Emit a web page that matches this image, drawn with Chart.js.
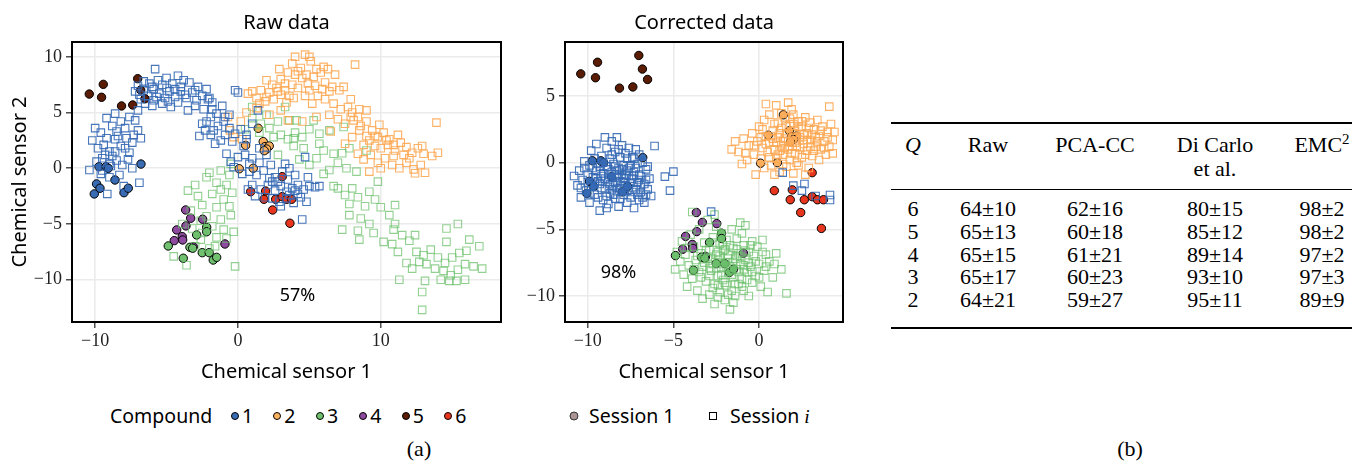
<!DOCTYPE html>
<html><head><meta charset="utf-8">
<script src="https://cdn.jsdelivr.net/npm/chart.js@4.4.1/dist/chart.umd.min.js"></script>
<style>
html,body{margin:0;padding:0;background:#fff;}
body{width:1359px;height:464px;overflow:hidden;position:relative;font-family:"Noto Sans",sans-serif;color:#000;}
canvas{position:absolute;top:0;}
.abs{position:absolute;white-space:nowrap;line-height:1;}
.cc{transform:translate(-50%,-50%);}
.cl{transform:translate(0,-50%);}
.serif{font-family:"Liberation Serif",serif;}
.rule{position:absolute;background:#000;left:891px;width:461px;}
</style></head><body>
<canvas id="cRaw" width="515" height="395" style="left:0;width:515px;height:395px"></canvas>
<canvas id="cCor" width="345" height="395" style="left:515px;width:345px;height:395px"></canvas>
<div id="extra"></div>
<script>
// ---------------- data ----------------
const compoundLabels = ['1','2','3','4','5','6'];
const rawXTicks = [-10, 0, 10];
const rawYTicks = [-10, -5, 0, 5, 10];
const corXTicks = [-10, -5, 0];
const corYTicks = [-10, -5, 0, 5];
const rawAccuracy = '57%';
const corAccuracy = '98%';

// Session 1 (circles) - identical in both panels
const s1c1 = [[-9.73,0.14],[-9.24,0.14],[-9.08,0],[-8.61,-1.05],[-10.06,-2.3],[-9.9,-1.4],[-9.66,-1.79],[-7.98,-2.19],[-7.68,-1.79],[-6.79,0.38]];
const s1c2 = [[1.42,3.59],[0.54,2.06],[1.77,2.39],[1.89,1.94],[2.19,2.0],[2.01,1.73],[1.84,1.58],[0.09,-0.04],[1.07,0]];
const s1c3 = [[-4.88,-6.97],[-3.83,-8.07],[-2.89,-5.98],[-3.36,-7.09],[-3.17,-7.17],[-2.5,-7.57],[-2.19,-5.29],[-2.19,-5.69],[-2.01,-7.57],[-1.73,-8.23],[-1.49,-7.99]];
const s1c4 = [[-3.66,-3.74],[-3.31,-4.48],[-2.47,-4.57],[-4.29,-5.53],[-3.64,-5.17],[-3.9,-6.13],[-4.46,-6.49],[-3.87,-6.43],[-3.13,-7.03],[-0.91,-6.79]];
const s1c5 = [[-10.41,6.66],[-9.43,7.53],[-9.55,6.37],[-8.15,5.59],[-7.37,5.68],[-7.02,8.04],[-6.81,7.02],[-6.51,6.24]];
const s1c6 = [[3.1,-0.75],[0.89,-2.1],[1.94,-2.04],[1.82,-2.78],[2.64,-2.78],[3.1,-2.55],[3.41,-2.78],[3.76,-2.78],[2.43,-3.74],[3.64,-4.93]];

// Session i (squares) - raw data
const rawSq1 = [[-5.8,8.9],[-7.0,7.4],[-6.6,7.0],[-6.2,7.6],[-5.6,7.9],[-5.0,8.1],[-4.6,7.6],[-4.2,8.3],[-3.8,7.9],[-3.4,7.7],[-2.8,7.3],[-2.2,7.1],[-6.8,6.2],[-6.3,6.5],[-5.9,6.1],[-5.5,6.7],[-5.1,6.3],[-4.8,6.9],[-4.4,6.4],[-4.0,6.9],[-3.6,6.3],[-3.2,6.8],[-2.9,6.1],[-2.5,6.5],[-2.1,6.2],[-1.8,5.9],[-6.5,5.8],[-6.0,5.6],[-5.3,5.8],[-4.7,5.5],[-4.2,5.9],[-3.5,5.2],[-3.0,5.6],[-2.4,5.3],[-5.0,7.2],[-5.9,7.1],[-4.0,7.3],[-3.0,7.0],[-7.2,6.9],[-6.6,7.8],
[-6.0,7.3],[-5.3,7.5],[-4.4,7.1],[-3.7,6.6],[-5.7,6.4],[-6.9,6.6],[-4.9,6.0],
[-10.0,3.6],[-10.2,2.5],[-9.6,3.2],[-9.2,4.5],[-8.8,3.8],[-8.5,3.3],[-8.2,4.2],[-7.9,3.6],[-7.6,4.6],[-7.2,4.3],[-9.8,1.8],[-9.4,2.1],[-9.0,1.5],[-8.6,2.6],[-8.2,2.0],[-7.8,2.7],[-7.4,2.3],[-6.8,2.7],[-9.9,0.6],[-9.5,0.9],[-9.0,0.4],[-8.5,0.7],[-8.1,0.3],[-7.7,0.8],[-7.4,0.0],[-10.4,-0.15],[-9.6,-0.5],[-9.0,-0.8],[-8.3,-0.6],[-9.15,-2.3],[-6.9,-1.3],[-8.0,-1.6],[-8.6,4.9],[-7.0,5.2],[-8.8,1.1],[-7.6,1.4],[-9.5,-0.2],[-8.9,0.2],
[-8.4,2.9],[-9.2,2.7],[-7.9,1.8],[-8.6,1.5],[-9.3,1.2],[-7.0,3.4],[-7.3,3.0],
[-2.7,2.9],[-2.3,3.4],[-1.9,3.0],[-1.6,2.2],[-1.4,3.8],[-1.0,4.2],[-0.6,3.6],[-0.2,3.1],[0.2,3.5],[0.6,3.0],[-1.9,4.6],[-2.2,4.2],[-1.5,4.9],[-1.1,5.6],[-0.6,4.8],[-0.2,7.0],[0.0,6.8],[-1.8,5.3],[-1.2,2.5],[-0.4,2.4],[0.4,2.0],[-2.0,6.3],[-0.9,4.6],[-2.5,4.0],[1.4,5.2],[1.0,4.0],[-1.7,3.4],[-0.9,3.0],
[-0.8,1.3],[-0.5,0.6],[0.0,1.0],[0.5,1.2],[1.0,0.9],[1.5,0.5],[2.0,1.2],[-0.3,0.1],[0.3,-0.5],[0.8,-0.3],[1.3,-0.6],[1.8,-0.2],[2.3,0.3],[2.6,-0.8],[3.1,-0.3],[3.5,-1.0],[4.0,-0.6],[1.0,-1.5],[1.6,-1.9],[2.1,-1.5],[2.6,-2.0],[3.0,-1.6],[3.4,-2.1],[3.8,-1.8],[4.2,-1.5],[4.6,-1.9],[5.0,-1.6],[5.4,-1.7],[5.7,-1.6],[2.4,-2.7],[2.9,-3.0],[3.4,-2.7],[3.9,-3.1],[4.4,-2.6],[4.8,-3.0],[3.0,-3.4],[4.5,-4.6],[1.2,-2.5],[0.7,-1.9],[4.2,-2.3],[2.2,-0.9],[4.7,1.0],[3.3,0.4],[1.5,1.8],[0.6,2.6],[3.6,0.0],[4.9,-0.8],
[0.8,0.4],[2.8,-1.2],[3.6,-2.4],[4.0,-2.0],[1.9,-2.6],[2.4,-1.2]];
const rawSq2 = [[4.7,10.2],[3.8,9.4],[4.4,9.0],[5.1,9.6],[5.5,8.9],[3.5,8.6],[4.0,8.4],[5.8,8.6],[6.3,8.9],[6.0,9.1],[8.2,9.3],[4.5,8.1],[3.0,8.0],[2.4,7.5],[2.0,7.9],[1.6,7.0],[2.2,6.8],[2.7,7.2],[3.3,7.0],[3.8,7.5],[4.2,7.2],[4.9,7.6],[5.4,7.4],[6.1,7.7],[6.6,7.3],[7.1,7.0],[7.4,7.3],[0.7,6.7],[1.0,6.9],[1.3,6.3],[1.9,6.0],[2.5,6.2],[3.0,6.6],[3.4,5.9],[3.9,6.3],[4.7,6.5],[5.2,5.8],[5.6,6.5],[6.1,6.2],[6.7,5.8],[7.2,5.3],[7.7,5.5],[8.0,5.0],[8.5,5.3],[7.0,4.4],[7.5,4.0],[8.1,4.3],[8.6,3.8],[9.0,4.2],[9.4,3.4],[9.8,2.8],[10.2,3.2],[10.6,2.6],[9.2,2.5],[9.6,2.0],[10.0,1.8],[10.5,2.1],[11.0,1.6],[11.4,2.3],[11.8,1.9],[12.2,1.4],[12.6,1.8],[13.0,1.3],[13.6,1.1],[14.0,1.4],[12.9,2.0],[13.9,4.1],[8.4,1.3],[8.8,0.8],[9.3,1.2],[9.8,0.5],[10.3,0.9],[10.8,0.3],[11.3,0.0],[11.8,0.5],[12.3,-0.1],[12.8,0.3],[13.1,-0.4],[12.4,-0.45],[9.2,-0.3],[10.0,0.0],[7.5,2.2],[8.0,2.8],[6.5,3.3],[4.5,4.2],[5.5,4.6],[0.2,4.2],[-0.56,3.4],[0.6,5.0],[1.3,5.4],[2.2,4.8],[3.0,5.2],[3.5,4.3],[-0.3,2.8],[0.3,2.6],[-0.7,4.6],[9.0,5.2],[6.8,8.4],[5.0,10.0],[4.0,10.0],[6.4,4.8],[2.9,8.9],[7.9,6.2],[11.2,3.0],[10.9,1.1],[9.9,3.9],[8.8,2.1],
[4.2,8.7],[4.8,8.4],[5.3,8.2],[3.3,7.6],[2.8,6.9],[5.0,7.0],[5.9,7.1],[6.4,6.9],[3.6,6.5],[2.0,6.4],[1.5,5.8],[7.9,4.6],[8.4,4.6],[9.6,2.9],[10.4,2.5],[11.6,1.2],[12.0,0.9],[10.9,2.1],[9.0,2.9],[8.5,3.4]];
const rawSq3 = [[1.0,4.5],[1.6,4.0],[2.2,3.6],[2.8,4.2],[3.3,5.5],[3.6,4.3],[2.5,2.8],[3.0,3.0],[3.5,2.6],[4.0,3.2],[4.5,2.8],[4.1,4.3],[5.3,4.3],[5.0,3.5],[5.7,3.1],[6.4,3.4],[7.4,3.7],[5.7,2.2],[6.0,1.6],[6.7,1.3],[7.3,1.35],[7.8,1.8],[4.6,1.8],[3.9,2.7],[4.3,0.8],[5.0,0.3],[5.5,0.9],[6.4,-0.15],[7.0,0.5],[7.6,0.0],[6.0,-0.5],[6.7,-1.6],[1.5,3.2],[0.5,3.5],[-0.5,0.4],[-1.2,-0.2],[1.0,5.5],[2.0,4.8],[3.9,2.0],[2.8,1.2],[8.3,-0.3],[9.0,1.6],
[-3.0,-1.5],[-2.2,-0.8],[-1.5,-1.3],[-0.8,-1.5],[-3.5,-2.0],[-2.8,-2.5],[-1.8,-2.3],[-1.0,-2.8],[-0.4,-2.2],[-2.5,-3.3],[-1.5,-3.5],[-0.6,-3.4],[-3.3,-3.8],[-2.2,-4.3],[-1.2,-4.6],[-0.5,-4.2],[-1.8,-5.2],[-1.0,-5.5],[-0.3,-5.7],[-2.5,-5.8],[-1.5,-6.2],[-3.0,-7.0],[-2.0,-7.2],[-1.6,-7.0],[-4.5,-7.9],[-3.6,-8.7],[-0.2,-8.8],[-2.6,-6.4],[-0.8,-6.3],[-1.2,-1.9],[-3.9,-5.0],[-2.6,-4.7],[-3.2,-5.4],[-0.6,-0.6],[-2.0,-0.4],
[7.0,-1.8],[7.5,-2.4],[8.0,-1.8],[8.4,-2.6],[7.8,-3.2],[7.8,-4.2],[8.9,-3.4],[9.2,-2.1],[9.6,-2.8],[10.0,-3.5],[10.6,-4.2],[8.6,-4.5],[9.2,-5.0],[11.0,-5.0],[10.9,-5.5],[9.5,-5.8],[8.4,-5.6],[7.3,-5.5],[10.8,-6.8],[11.5,-6.0],[12.0,-6.5],[12.4,-6.0],[11.2,-7.5],[10.2,-6.6],[8.5,-6.4],[11.0,-3.3],[9.8,-1.2],
[12.5,-7.5],[13.0,-7.8],[13.5,-7.3],[14.0,-8.0],[14.5,-8.5],[15.0,-8.0],[15.5,-7.6],[16.0,-7.4],[16.9,-7.0],[13.2,-8.6],[13.8,-9.0],[14.4,-9.2],[14.9,-9.6],[15.4,-9.1],[15.9,-8.6],[16.5,-8.8],[17.1,-9.0],[14.2,-10.0],[14.8,-10.1],[15.3,-10.1],[15.9,-10.0],[13.1,-10.1],[12.2,-9.0],[11.8,-8.5],[14.6,-5.4],[14.6,-6.6],[15.4,-5.0],[12.9,-11.1],[12.9,-12.7],[16.2,-6.4],[11.3,-10.0],[12.7,-8.4]];

// Session i (squares) - corrected data
const corSq1 = [[-10.8,-1.0],[-10.6,-1.7],[-10.5,-0.6],[-10.4,-2.6],[-10.3,-1.3],[-10.2,0.1],[-10.1,-2.1],[-10.0,-0.9],[-9.9,-3.0],[-9.8,-1.8],[-9.8,0.9],[-9.7,-0.4],[-9.6,-2.4],[-9.5,-1.2],[-9.5,1.4],[-9.4,-0.1],[-9.3,-3.6],[-9.3,-1.6],[-9.2,0.5],[-9.1,-2.8],[-9.1,-0.8],[-9.0,1.9],[-9.0,-2.0],[-8.9,-0.3],[-8.9,1.1],[-8.8,-1.3],[-8.8,-3.1],[-8.7,0.3],[-8.7,-2.3],[-8.6,1.6],[-8.6,-0.7],[-8.5,-1.7],[-8.5,-0.1],[-8.4,0.8],[-8.4,-2.7],[-8.3,-1.1],[-8.3,1.9],[-8.2,-0.4],[-8.2,-3.3],[-8.1,-1.9],[-8.1,0.4],[-8.0,-0.9],[-8.0,1.3],[-7.9,-2.4],[-7.9,-0.2],[-7.8,-1.5],[-7.8,0.7],[-7.7,-3.0],[-7.7,-0.6],[-7.6,1.1],[-7.6,-1.9],[-7.5,-0.2],[-7.5,-2.6],[-7.4,0.4],[-7.4,-1.2],[-7.3,-3.4],[-7.3,-0.7],[-7.2,1.0],[-7.2,-2.0],[-7.1,-0.1],[-7.1,-1.5],[-7.0,-2.8],[-7.0,0.6],[-6.9,-1.0],[-6.9,-2.2],[-6.8,0.0],[-6.7,-1.6],[-6.7,-3.0],[-6.6,-0.5],[-6.5,-2.0],[-6.4,-1.2],[-6.3,-2.5],[-8.9,-3.4],[-9.9,-0.2],[-10.4,-1.9],[-8.6,-2.0],[-8.1,-1.4],[-8.8,-0.9],[-9.4,-1.4],[-7.9,-1.2],[-8.3,-0.6],[-7.6,-1.0],[-9.2,-1.0],[-8.4,-1.5],[-9.6,0.3],[-8.0,-2.2],[-7.0,-1.3],
[-9.7,-1.1],[-9.5,-0.6],[-9.3,-0.3],[-9.2,-1.9],[-9.0,-1.2],[-8.9,-2.5],[-8.8,-0.5],[-8.7,-1.6],[-8.6,-1.1],[-8.5,-2.4],[-8.4,-0.3],[-8.3,-1.9],[-8.2,-1.0],[-8.1,-2.7],[-8.0,-0.5],[-7.9,-1.7],[-7.8,-0.9],[-7.7,-2.1],[-7.6,-0.4],[-7.5,-1.5],[-7.4,-2.2],[-7.3,-1.0],[-7.2,-0.4],[-7.1,-2.4],[-7.0,-0.9],[-6.9,-1.7],[-6.8,-2.6],[-6.6,-1.3],[-10.0,-1.5],[-9.9,-2.3],[-9.6,-1.5],[-9.4,-2.6],[-9.1,0.0],[-8.6,0.6],[-8.2,1.0],[-7.7,0.3],[-7.3,0.3],[-10.2,-0.4],[-6.5,-0.3],[-6.6,-2.4],
[-6.1,1.25],[-5.5,-1.05],[-5.0,-0.67],[-5.2,-2.1],
[1.38,-0.75],[2.0,-1.72],[2.65,-1.6],[2.5,-2.1],[4.14,-2.42],[4.14,-2.8],[3.3,-2.5],[-2.8,-3.67]];
const corSq2 = [[-1.6,1.0],[-1.2,0.8],[-0.9,1.8],[-0.7,0.2],[-0.6,1.3],[-0.4,2.2],[-0.3,0.6],[-0.2,-0.9],[-0.1,1.6],[0.0,2.7],[0.1,0.3],[0.2,1.1],[0.3,3.2],[0.3,-0.4],[0.4,2.0],[0.5,0.8],[0.6,1.5],[0.6,3.6],[0.7,-0.2],[0.8,2.4],[0.9,1.0],[1.0,4.3],[1.0,0.3],[1.1,1.9],[1.1,3.0],[1.2,-0.7],[1.3,1.3],[1.3,2.6],[1.4,0.6],[1.5,3.4],[1.5,1.8],[1.6,-0.3],[1.6,2.2],[1.7,1.0],[1.7,4.5],[1.8,2.9],[1.8,0.2],[1.9,1.5],[2.0,3.6],[2.0,-0.8],[2.1,2.4],[2.1,0.7],[2.2,1.2],[2.3,3.1],[2.3,-0.2],[2.4,1.9],[2.5,0.4],[2.5,2.7],[2.6,1.4],[2.7,3.4],[2.8,0.9],[2.8,2.2],[2.9,-0.4],[3.0,1.7],[3.0,3.0],[3.1,0.5],[3.2,2.5],[3.3,1.2],[3.4,3.2],[3.5,0.2],[3.5,2.0],[3.6,1.0],[3.7,2.7],[3.8,1.6],[3.9,0.6],[4.0,2.3],[4.1,1.2],[4.2,2.9],[4.3,1.7],[4.1,4.2],[-1.0,-0.1],[0.9,-0.9],[1.9,4.0],[0.4,4.4],[2.7,-0.9],[-1.4,1.6],[1.4,1.6],[2.2,2.0],[1.0,1.5],[2.6,1.7],[1.8,1.2],[0.7,2.0],[2.0,2.9],[3.3,1.9],[1.2,0.9],
[0.4,1.4],[0.6,0.4],[0.8,1.8],[0.9,2.9],[1.1,0.6],[1.2,2.2],[1.3,3.7],[1.4,-0.1],[1.5,1.1],[1.6,2.7],[1.7,1.6],[1.8,3.3],[1.9,0.7],[2.0,2.2],[2.1,1.5],[2.2,0.0],[2.3,2.7],[2.4,1.1],[2.5,3.1],[2.6,2.1],[2.7,0.6],[2.8,1.7],[2.9,2.6],[3.0,1.2],[3.1,2.1],[3.2,0.9],[3.4,1.6],[3.6,2.4],[3.8,1.1],[4.0,1.9],[0.1,1.9],[-0.3,1.3],[0.2,2.5],[4.4,2.3],[4.3,0.7],[-0.8,0.7]];
const corSq3 = [[-4.9,-8.0],[-4.8,-6.7],[-4.6,-7.4],[-4.5,-5.9],[-4.4,-8.4],[-4.3,-6.9],[-4.2,-9.3],[-4.1,-7.7],[-4.0,-5.4],[-3.9,-8.7],[-3.8,-6.3],[-3.7,-7.3],[-3.6,-9.6],[-3.5,-8.2],[-3.5,-5.0],[-3.4,-6.8],[-3.3,-7.8],[-3.3,-10.2],[-3.2,-6.0],[-3.1,-8.9],[-3.0,-7.2],[-3.0,-4.3],[-2.9,-9.9],[-2.9,-6.5],[-2.8,-8.1],[-2.7,-5.6],[-2.7,-7.6],[-2.6,-10.6],[-2.6,-9.1],[-2.5,-6.9],[-2.5,-4.8],[-2.4,-8.5],[-2.4,-7.3],[-2.3,-6.1],[-2.3,-9.7],[-2.2,-7.9],[-2.2,-5.3],[-2.1,-8.8],[-2.1,-6.6],[-2.0,-10.3],[-2.0,-7.5],[-1.9,-5.8],[-1.9,-9.2],[-1.8,-8.2],[-1.8,-6.9],[-1.7,-11.0],[-1.7,-7.8],[-1.6,-5.0],[-1.6,-9.6],[-1.5,-6.4],[-1.5,-8.6],[-1.4,-7.2],[-1.4,-10.0],[-1.3,-5.7],[-1.3,-8.0],[-1.2,-9.1],[-1.2,-6.8],[-1.1,-7.6],[-1.0,-5.3],[-1.0,-8.7],[-0.9,-6.2],[-0.9,-9.6],[-0.8,-7.3],[-0.8,-4.7],[-0.7,-8.2],[-0.6,-6.7],[-0.6,-10.0],[-0.5,-7.8],[-0.4,-5.9],[-0.4,-9.0],[-0.3,-7.0],[-0.2,-8.5],[-0.1,-6.3],[0.0,-7.6],[0.1,-9.3],[0.2,-5.8],[0.3,-8.1],[0.4,-6.9],[0.5,-9.7],[0.6,-7.4],[0.8,-8.6],[1.0,-6.8],[1.3,-8.0],[1.6,-9.8],[-3.9,-3.7],[-1.1,-4.5],[-2.6,-3.9],[-1.8,-7.2],[-2.4,-6.7],[-1.3,-7.0],[-2.9,-7.9],[-0.9,-8.0],[-1.6,-7.9],[-2.1,-6.2],
[-3.6,-7.0],[-3.4,-8.6],[-3.2,-7.5],[-3.1,-6.6],[-2.9,-8.5],[-2.8,-7.2],[-2.7,-9.4],[-2.6,-6.0],[-2.5,-7.9],[-2.4,-9.2],[-2.3,-7.0],[-2.2,-8.4],[-2.1,-7.6],[-2.0,-9.0],[-2.0,-6.5],[-1.9,-7.9],[-1.8,-9.9],[-1.7,-6.2],[-1.6,-8.4],[-1.5,-7.5],[-1.4,-9.1],[-1.3,-6.5],[-1.2,-8.2],[-1.1,-7.0],[-1.0,-9.3],[-0.9,-7.7],[-0.8,-6.6],[-0.7,-8.8],[-0.6,-7.5],[-0.5,-6.2],[-0.4,-8.2],[-0.2,-7.4],[0.0,-8.6],[0.2,-6.7],[0.4,-7.8],[-3.8,-8.0],[-4.2,-6.4],[-1.5,-10.5],[-2.4,-10.1],[0.9,-7.6]];

// Table (b)
const tableQ = ['6','5','4','3','2'];
const tableRaw = ['64±10','65±13','65±15','65±17','64±21'];
const tablePCA = ['62±16','60±18','61±21','60±23','59±27'];
const tableDiCarlo = ['80±15','85±12','89±14','93±10','95±11'];
const tableEMC = ['98±2','98±2','97±2','97±3','89±9'];

// ---------------- style ----------------
const fillColors = ['#3a6cb4','#fdb262','#70c070','#8d4a9f','#5a1c04','#e8361e'];
const sqColors = ['rgba(52,104,180,0.9)','rgba(253,168,84,0.9)','rgba(104,190,104,0.72)'];
const SANS = '"Noto Sans", sans-serif';
const SERIF = '"Liberation Serif", serif';

function xy(a){ return a.map(p => ({x:p[0], y:p[1]})); }
function sqSet(a,i){ return {data:xy(a), pointStyle:'rect', pointRadius:5.3, borderWidth:1.1, borderColor:sqColors[i], backgroundColor:'rgba(0,0,0,0)'}; }
function ciSet(a,i){ return {data:xy(a), pointStyle:'circle', pointRadius:4.2, borderWidth:1, borderColor:'#000', backgroundColor:fillColors[i]}; }
function fmt(v){ return v < 0 ? '\u2212' + Math.abs(v) : String(v); }

const framePlugin = { id:'frame', afterDatasetsDraw(chart){ const a = chart.chartArea, c = chart.ctx; c.save(); c.strokeStyle='#000'; c.lineWidth=2; c.strokeRect(a.left, a.top, a.right-a.left, a.bottom-a.top); c.restore(); } };
const pctPlugin = { id:'pct', afterDatasetsDraw(chart, args, o){ const c = chart.ctx; c.save(); c.font = '18px ' + SANS; c.fillStyle='#000'; c.textAlign='center'; c.textBaseline='middle'; c.fillText(o.text, chart.scales.x.getPixelForValue(o.x), chart.scales.y.getPixelForValue(o.y)); c.restore(); } };

function axis(ticksArr, min, max, isX, yWidth, title){
  const cfg = {
    type:'linear', min:min, max:max,
    afterBuildTicks: s => { s.ticks = ticksArr.map(v => ({value:v})); },
    grid:{color:'#ebebeb', lineWidth:1.6, tickColor:'#222', tickLength:6, tickWidth:1.2},
    border:{display:false},
    ticks:{font:{family:SERIF, size:18}, color:'#222', padding: isX ? 2 : 4, callback: fmt, maxRotation:0, autoSkip:false},
    title:{display: !!title, text: title || '', color:'#000', font:{family:SANS, size:20}, padding: isX ? {top:0,bottom:7.6} : {top:8,bottom:0}}
  };
  if (isX) cfg.afterFit = s => { s.height = 70; }; else cfg.afterFit = s => { s.width = yWidth; };
  return cfg;
}

function makeChart(id, sq, titleText, xT, yT, xr, yr, yWidth, yTitle, rightPad, pct){
  const ds = [sqSet(sq[0],0), sqSet(sq[1],1), sqSet(sq[2],2),
    ciSet(s1c1,0), ciSet(s1c2,1), ciSet(s1c3,2), ciSet(s1c4,3), ciSet(s1c5,4), ciSet(s1c6,5)];
  return new Chart(document.getElementById(id), {
    type:'scatter',
    data:{datasets:ds},
    plugins:[framePlugin, pctPlugin],
    options:{
      responsive:false, animation:false, events:[],
      layout:{padding:{left:0, right:rightPad, top:0, bottom:3}},
      plugins:{
        legend:{display:false}, tooltip:{enabled:false},
        title:{display:true, text:titleText, fullSize:false, color:'#000', font:{family:SANS, size:20, weight:'normal'}, padding:{top:11,bottom:7}},
        pct:pct
      },
      scales:{
        x: axis(xT, xr[0], xr[1], true, 0, 'Chemical sensor 1'),
        y: axis(yT, yr[0], yr[1], false, yWidth, yTitle)
      }
    }
  });
}

makeChart('cRaw', [rawSq1, rawSq2, rawSq3], 'Raw data', rawXTicks, rawYTicks, [-11.62, 18.42], [-13.79, 11.33], 72, 'Chemical sensor 2', 14, {text:rawAccuracy, x:4.17, y:-11.43});
makeChart('cCor', [corSq1, corSq2, corSq3], 'Corrected data', corXTicks, corYTicks, [-11.33, 4.9], [-11.95, 9.05], 50, '', 17, {text:corAccuracy, x:-8.21, y:-8.24});

// ---------------- legends, table, captions (HTML) ----------------
const ex = document.getElementById('extra');
function put(html, left, top, cls, style){ const d = document.createElement('div'); d.className = 'abs ' + cls; d.style.left = left+'px'; d.style.top = top+'px'; if (style) d.style.cssText += style; d.innerHTML = html; ex.appendChild(d); return d; }

// compound legend
put('Compound', 110, 416, 'cl', 'font-size:19.5px;');
const legX = [235, 277.3, 320, 363.3, 405.7, 448.3];
compoundLabels.forEach((lab, i) => {
  put('', legX[i], 416, 'cc', 'width:6px;height:6px;border-radius:50%;border:1px solid #000;background:'+fillColors[i]+';');
  put(lab, legX[i]+7, 416, 'cl', 'font-size:19.5px;');
});
// session legend
put('', 574, 416, 'cc', 'width:7px;height:7px;border-radius:50%;border:1px solid #333;background:#a99393;');
put('Session 1', 589, 416, 'cl', 'font-size:19.5px;');
put('', 713, 416, 'cc', 'width:6px;height:6px;border:1px solid #000;background:#fff;');
put('Session <span style="font-family:'+SERIF.replace(/"/g,"'")+';font-style:italic">i</span>', 730, 416, 'cl', 'font-size:19.5px;');

// captions
put('(a)', 419, 449, 'cc serif', 'font-size:22px;');
put('(b)', 1130, 449, 'cc serif', 'font-size:22px;');

// table rules
[[122,2],[188.5,1.3],[327,2]].forEach(r => { const d = document.createElement('div'); d.className='rule'; d.style.top = r[0]+'px'; d.style.height = r[1]+'px'; ex.appendChild(d); });
const colX = [913, 988, 1095, 1215, 1322];
const TF = 'font-size:22px;';
put('<i>Q</i>', colX[0], 145, 'cc serif', TF);
put('Raw', colX[1], 145, 'cc serif', TF);
put('PCA-CC', colX[2], 145, 'cc serif', TF);
put('Di Carlo', colX[3], 145, 'cc serif', TF);
put('et al.', colX[3], 169, 'cc serif', TF);
put('EMC<sup style="font-size:15px;vertical-align:8px;line-height:0">2</sup>', colX[4], 145, 'cc serif', TF);
const rowY = [209, 232, 254.5, 277, 300];
const cols = [tableQ, tableRaw, tablePCA, tableDiCarlo, tableEMC];
rowY.forEach((y, r) => cols.forEach((col, c) => put(col[r], colX[c], y, 'cc serif', TF)));
</script>
</body></html>
